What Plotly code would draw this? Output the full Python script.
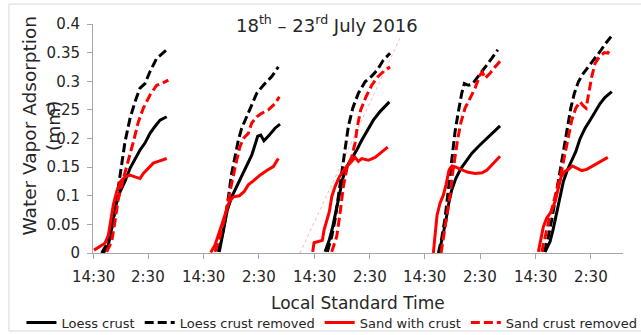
import plotly.graph_objects as go

# Hours elapsed since 14:30 on 18 July 2016; each inner list is one night.
loess_crust_h = [
    [2.24, 3.33, 4.05, 4.77, 5.86, 6.94, 8.03, 9.11, 10.2, 11.28, 12.37, 13.45, 14.54, 16.0],
    [27.4, 28.28, 29.15, 30.1, 31.18, 32.27, 33.36, 34.44, 35.16, 35.74, 36.39, 37.1, 38.26, 39.5, 40.58],
    [50.35, 51.28, 52.02, 52.73, 53.45, 54.19, 55.06, 56.14, 57.23, 58.31, 59.53, 60.83, 62.28, 64.3],
    [75.09, 75.8, 76.54, 77.11, 77.84, 78.71, 79.86, 81.1, 82.18, 83.62, 85.07, 86.52, 88.32],
    [98.09, 99.18, 99.89, 100.63, 101.35, 102.06, 102.93, 103.88, 104.75, 105.69, 106.77, 107.86, 108.94, 110.03, 111.11, 112.57],
]
loess_crust_mm = [
    [0, 0.014, 0.043, 0.078, 0.107, 0.125, 0.148, 0.165, 0.18, 0.192, 0.209, 0.221, 0.232, 0.238],
    [0.002, 0.037, 0.075, 0.098, 0.116, 0.133, 0.151, 0.171, 0.189, 0.204, 0.206, 0.196, 0.206, 0.218, 0.225],
    [0.002, 0.023, 0.046, 0.075, 0.104, 0.13, 0.151, 0.165, 0.18, 0.197, 0.215, 0.232, 0.247, 0.264],
    [0, 0.026, 0.055, 0.084, 0.11, 0.13, 0.148, 0.162, 0.174, 0.186, 0.197, 0.209, 0.222],
    [0.002, 0.02, 0.043, 0.072, 0.101, 0.125, 0.145, 0.162, 0.177, 0.2, 0.218, 0.232, 0.247, 0.261, 0.272, 0.282],
]

loess_removed_h = [
    [1.88, 3.33, 4.41, 5.28, 6.22, 6.94, 8.03, 9.11, 10.2, 11.28, 12.37, 13.82, 16.0],
    [27.2, 28.28, 29.0, 29.57, 30.08, 30.82, 31.53, 32.27, 33.36, 34.44, 35.53, 36.96, 38.78, 40.21],
    [50.85, 51.8, 52.52, 53.23, 53.97, 54.69, 55.4, 56.36, 57.58, 59.03, 60.48, 61.7, 63.0, 64.45],
    [74.94, 75.67, 76.39, 76.97, 77.47, 77.97, 78.56, 79.28, 80.01, 80.58, 81.45, 82.32, 83.27, 84.35, 85.44, 86.52, 87.82],
    [97.94, 98.81, 99.54, 100.26, 100.98, 101.71, 102.43, 103.02, 103.67, 104.45, 105.32, 106.4, 107.49, 108.94, 110.03, 111.11, 112.41],
]
loess_removed_mm = [
    [0, 0.02, 0.055, 0.101, 0.148, 0.194, 0.235, 0.264, 0.288, 0.296, 0.317, 0.34, 0.355],
    [0.002, 0.04, 0.075, 0.11, 0.139, 0.168, 0.197, 0.218, 0.238, 0.259, 0.279, 0.293, 0.308, 0.325],
    [0.002, 0.029, 0.058, 0.098, 0.145, 0.186, 0.221, 0.253, 0.279, 0.299, 0.309, 0.32, 0.337, 0.349],
    [0, 0.026, 0.061, 0.101, 0.136, 0.171, 0.212, 0.247, 0.279, 0.296, 0.293, 0.295, 0.305, 0.317, 0.328, 0.34, 0.355],
    [0.002, 0.029, 0.058, 0.093, 0.128, 0.157, 0.192, 0.221, 0.253, 0.279, 0.299, 0.314, 0.325, 0.34, 0.352, 0.365, 0.378],
]

sand_crust_h = [
    [0.22, 1.52, 2.6, 3.33, 3.84, 4.41, 5.14, 6.0, 6.94, 8.03, 9.11, 10.2, 10.92, 12.0, 13.09, 14.17, 16.0],
    [25.54, 26.48, 27.56, 28.65, 29.58, 30.45, 31.75, 32.77, 33.7, 34.79, 36.24, 37.7, 39.13, 40.21],
    [47.67, 47.96, 48.9, 49.76, 50.13, 50.72, 51.28, 51.8, 52.52, 53.45, 54.69, 55.77, 56.86, 57.58, 58.31, 59.75, 61.2, 62.28, 63.95],
    [73.85, 74.22, 74.65, 75.3, 76.02, 76.6, 77.26, 77.9, 78.78, 80.08, 81.38, 82.9, 84.42, 85.5, 86.59, 88.32],
    [96.64, 97.22, 97.72, 98.46, 99.39, 100.26, 100.98, 101.56, 102.28, 103.15, 104.02, 104.97, 106.05, 107.14, 108.22, 109.31, 110.39, 111.7],
]
sand_crust_mm = [
    [0.005, 0.011, 0.017, 0.031, 0.055, 0.084, 0.107, 0.125, 0.133, 0.136, 0.133, 0.13, 0.139, 0.148, 0.157, 0.16, 0.165],
    [0.001, 0.014, 0.04, 0.069, 0.09, 0.098, 0.1, 0.107, 0.119, 0.126, 0.136, 0.144, 0.151, 0.165],
    [0.002, 0.018, 0.02, 0.022, 0.04, 0.058, 0.072, 0.098, 0.116, 0.133, 0.148, 0.157, 0.167, 0.16, 0.165, 0.162, 0.167, 0.174, 0.185],
    [0, 0.034, 0.066, 0.087, 0.101, 0.119, 0.145, 0.152, 0.15, 0.145, 0.141, 0.139, 0.14, 0.145, 0.154, 0.169],
    [0.002, 0.023, 0.046, 0.061, 0.072, 0.09, 0.113, 0.133, 0.142, 0.146, 0.152, 0.148, 0.144, 0.146, 0.151, 0.155, 0.16, 0.167],
]

sand_removed_h = [
    [2.97, 4.05, 4.77, 5.5, 6.58, 7.67, 8.75, 9.84, 10.92, 12.37, 13.82, 14.9, 16.35],
    [26.48, 27.56, 28.65, 29.36, 30.1, 31.18, 31.9, 32.62, 33.7, 34.44, 35.53, 36.6, 38.05, 39.5, 40.43],
    [51.8, 52.88, 53.6, 54.32, 55.19, 56.14, 56.86, 57.36, 58.09, 59.24, 60.48, 61.7, 63.15, 64.45],
    [75.52, 76.02, 76.76, 77.47, 77.97, 78.56, 79.15, 79.86, 80.73, 81.81, 82.9, 83.98, 84.48, 85.07, 86.15, 87.24, 88.32],
    [97.37, 98.09, 98.96, 99.89, 100.85, 101.71, 102.43, 103.15, 103.88, 104.75, 105.69, 106.4, 106.99, 107.64, 108.22, 108.94, 109.81, 110.96, 111.7, 112.2],
]
sand_removed_mm = [
    [0.002, 0.02, 0.055, 0.095, 0.13, 0.16, 0.194, 0.229, 0.253, 0.276, 0.293, 0.296, 0.302],
    [0.002, 0.029, 0.063, 0.093, 0.122, 0.162, 0.186, 0.2, 0.209, 0.227, 0.238, 0.244, 0.25, 0.261, 0.273],
    [0.002, 0.029, 0.069, 0.116, 0.151, 0.168, 0.192, 0.221, 0.25, 0.273, 0.293, 0.307, 0.318, 0.325],
    [0, 0.026, 0.066, 0.101, 0.136, 0.171, 0.2, 0.229, 0.253, 0.27, 0.288, 0.311, 0.316, 0.305, 0.314, 0.325, 0.335],
    [0.002, 0.029, 0.058, 0.087, 0.116, 0.145, 0.174, 0.203, 0.232, 0.253, 0.264, 0.257, 0.253, 0.282, 0.308, 0.331, 0.342, 0.35, 0.349, 0.356],
]

# Faint dotted guide across the third night
guide_h = [44.9, 66.6]
guide_mm = [0, 0.375]

tick_hours = [0, 12, 24, 36, 48, 60, 72, 84, 96, 108]
tick_labels = ["14:30", "2:30", "14:30", "2:30", "14:30", "2:30", "14:30", "2:30", "14:30", "2:30"]
y_ticks = [0, 0.05, 0.1, 0.15, 0.2, 0.25, 0.3, 0.35, 0.4]
y_labels = ["0", "0.05", "0.1", "0.15", "0.2", "0.25", "0.3", "0.35", "0.4"]


def join_nights(hours, values):
    xs, ys = [], []
    for h, v in zip(hours, values):
        xs += h + [None]
        ys += v + [None]
    return xs, ys


FONT = "DejaVu Sans"
TXT = "#262626"
AX = "#a6a6a6"

series = [
    ("Loess crust", loess_crust_h, loess_crust_mm, "#000000", "solid"),
    ("Loess crust removed", loess_removed_h, loess_removed_mm, "#000000", "9px,4px"),
    ("Sand with crust", sand_crust_h, sand_crust_mm, "#ff0000", "solid"),
    ("Sand crust removed", sand_removed_h, sand_removed_mm, "#ff0000", "9px,4px"),
]

fig = go.Figure()
fig.add_trace(go.Scatter(
    x=guide_h, y=guide_mm, mode="lines", showlegend=False, hoverinfo="skip",
    line=dict(color="rgba(255,0,0,0.3)", width=1, dash="dot"),
))
for name, hrs, vals, color, dash in series:
    xs, ys = join_nights(hrs, vals)
    fig.add_trace(go.Scatter(
        x=xs, y=ys, mode="lines", name=name, connectgaps=False,
        line=dict(color=color, width=3, dash=dash),
    ))

# Time-of-day labels under each tick of the x axis
time_labels = [
    dict(text=lab, x=h, xref="x", y=-0.1048, yref="paper", xanchor="center",
         yanchor="middle", showarrow=False, font=dict(family=FONT, size=15, color=TXT))
    for h, lab in zip(tick_hours, tick_labels)
]

fig.update_layout(
    width=641, height=335,
    margin=dict(l=93, r=18, t=24, b=82, autoexpand=False),
    paper_bgcolor="white", plot_bgcolor="white",
    font=dict(family=FONT, size=15, color=TXT),
    showlegend=True,
    legend=dict(
        orientation="h", x=-0.135, xanchor="left", y=-0.304, yanchor="middle",
        font=dict(family=FONT, size=13, color=TXT),
        itemwidth=30, tracegroupgap=0, bgcolor="rgba(0,0,0,0)",
    ),
    xaxis=dict(
        range=[0, 115], tickmode="array", tickvals=tick_hours, showticklabels=False,
        showgrid=False, zeroline=False, showline=True, linecolor=AX, linewidth=1,
        ticks="outside", ticklen=5, tickcolor=AX, automargin=False,
    ),
    yaxis=dict(
        range=[0, 0.4], tickmode="array", tickvals=y_ticks, ticktext=y_labels,
        showgrid=False, zeroline=False, showline=True, linecolor=AX, linewidth=1,
        ticks="outside", ticklen=5, tickcolor=AX, tickfont=dict(size=15, color=TXT),
        ticklabelstandoff=4, automargin=False,
    ),
    shapes=[dict(
        type="rect", xref="paper", yref="paper",
        x0=-0.1586, x1=1.06, y0=-0.3406, y1=1.087,
        line=dict(color="#d9d9d9", width=1), fillcolor="rgba(0,0,0,0)", layer="below",
    )],
    annotations=time_labels + [
        dict(
            text="Local Standard Time", xref="paper", yref="paper",
            x=0.5, y=-0.218, xanchor="center", yanchor="middle", showarrow=False,
            font=dict(family=FONT, size=17, color=TXT),
        ),
        dict(
            text="18<sup>th</sup> – 23<sup>rd</sup> July 2016", xref="paper", yref="paper",
            x=0.442, y=1.0, xanchor="center", yanchor="middle", showarrow=False,
            font=dict(family=FONT, size=18, color=TXT),
        ),
        dict(
            text="Water Vapor Adsorption<br>(mm)", xref="paper", yref="paper",
            x=-0.098, y=0.557, xanchor="center", yanchor="middle", textangle=-90,
            showarrow=False, font=dict(family=FONT, size=18.5, color=TXT),
        ),
    ],
)

fig.write_html("out.html")
